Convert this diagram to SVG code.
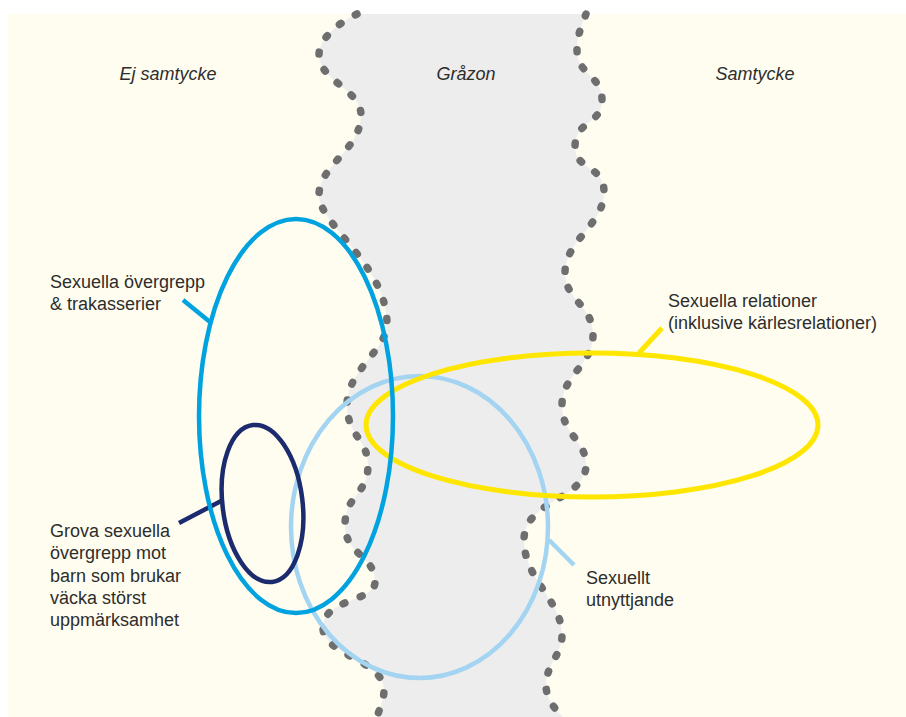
<svg xmlns="http://www.w3.org/2000/svg" width="906" height="717" viewBox="0 0 906 717">
  <style>
    .lbl { font-family: "Liberation Sans", Arial, sans-serif; font-size: 18px; fill: #2d2d2d; }
    .ttl { font-family: "Liberation Sans", Arial, sans-serif; font-size: 18px; font-style: italic; fill: #2d2d2d; text-anchor: middle; }
    .dots { fill: none; stroke: #6e6e6e; stroke-width: 7.5; stroke-linecap: round; stroke-dasharray: 2 16.5; }
    .ring { fill: none; }
  </style>
  <defs>
    <path id="leftEdge" d="M357,14 C340,22 319,38 319,55 C319,80 361,90 361,115 C361,150 319,165 319,195 C319,225 387,265 387,324 C387,350 347,370 347,405 C347,435 368,440 368,465 C368,495 345,495 345,525 C345,555 375,555 375,582 C375,602 323,598 323,628 C323,655 384,660 384,690 C384,700 379,710 377,717"/>
    <path id="rightEdge" d="M586,14 C582,25 577,35 577,50 C577,75 602,75 602,100 C602,125 575,120 575,147 C575,170 604,165 604,192 C604,225 565,240 565,273 C565,300 593,305 593,335 C593,365 562,375 562,405 C562,435 586,440 586,465 C586,500 524,500 524,540 C524,580 562,600 562,635 C562,655 546,665 546,685 C546,700 556,710 563,717"/>
  </defs>

  <g id="background">
    <rect x="0" y="0" width="906" height="717" fill="#ffffff"/>
    <rect x="8" y="14" width="898" height="703" fill="#fffdf0"/>
    <rect x="300" y="14" width="330" height="703" fill="#ededed"/>
    <path d="M357,14 C340,22 319,38 319,55 C319,80 361,90 361,115 C361,150 319,165 319,195 C319,225 387,265 387,324 C387,350 347,370 347,405 C347,435 368,440 368,465 C368,495 345,495 345,525 C345,555 375,555 375,582 C375,602 323,598 323,628 C323,655 384,660 384,690 C384,700 379,710 377,717 L8,717 L8,14 Z" fill="#fffdf0"/>
    <path d="M586,14 C582,25 577,35 577,50 C577,75 602,75 602,100 C602,125 575,120 575,147 C575,170 604,165 604,192 C604,225 565,240 565,273 C565,300 593,305 593,335 C593,365 562,375 562,405 C562,435 586,440 586,465 C586,500 524,500 524,540 C524,580 562,600 562,635 C562,655 546,665 546,685 C546,700 556,710 563,717 L906,717 L906,14 Z" fill="#fffdf0"/>
  </g>

  <g id="zone-borders">
    <use href="#leftEdge" class="dots"/>
    <use href="#rightEdge" class="dots"/>
  </g>

  <g id="zone-titles">
    <text class="ttl" x="168" y="80">Ej samtycke</text>
    <text class="ttl" x="466" y="80">Gråzon</text>
    <text class="ttl" x="755" y="80">Samtycke</text>
  </g>

  <g id="connectors">
    <line x1="549" y1="540" x2="574" y2="565" stroke="#a3d4f2" stroke-width="4.5"/>
    <line x1="662" y1="328" x2="639" y2="353" stroke="#ffe600" stroke-width="5"/>
    <line x1="183" y1="300" x2="210" y2="322" stroke="#00a3df" stroke-width="4.5"/>
    <line x1="179" y1="523" x2="223" y2="500" stroke="#1c2b6e" stroke-width="4.5"/>
  </g>

  <g id="node-exploitation">
    <ellipse class="ring" cx="419.5" cy="527" rx="128.5" ry="151" stroke="#a3d4f2" stroke-width="4.5"/>
    <text class="lbl"><tspan x="586" y="584">Sexuellt</tspan><tspan x="586" y="606">utnyttjande</tspan></text>
  </g>

  <g id="node-relations">
    <ellipse class="ring" cx="592" cy="425" rx="226" ry="72" stroke="#ffe600" stroke-width="5"/>
    <text class="lbl"><tspan x="668" y="307">Sexuella relationer</tspan><tspan x="668" y="329">(inklusive kärlesrelationer)</tspan></text>
  </g>

  <g id="node-abuse">
    <ellipse class="ring" cx="296" cy="416" rx="97" ry="197" stroke="#00a3df" stroke-width="4.5"/>
    <text class="lbl"><tspan x="50" y="288">Sexuella övergrepp</tspan><tspan x="50" y="310">&amp; trakasserier</tspan></text>
  </g>

  <g id="node-severe">
    <ellipse class="ring" cx="262.5" cy="503.5" rx="40" ry="79" transform="rotate(-7 262.5 503.5)" stroke="#1c2b6e" stroke-width="4.5"/>
    <text class="lbl"><tspan x="50" y="537">Grova sexuella</tspan><tspan x="50" y="559.3">övergrepp mot</tspan><tspan x="50" y="581.6">barn som brukar</tspan><tspan x="50" y="604">väcka störst</tspan><tspan x="50" y="626.3">uppmärksamhet</tspan></text>
  </g>
</svg>
